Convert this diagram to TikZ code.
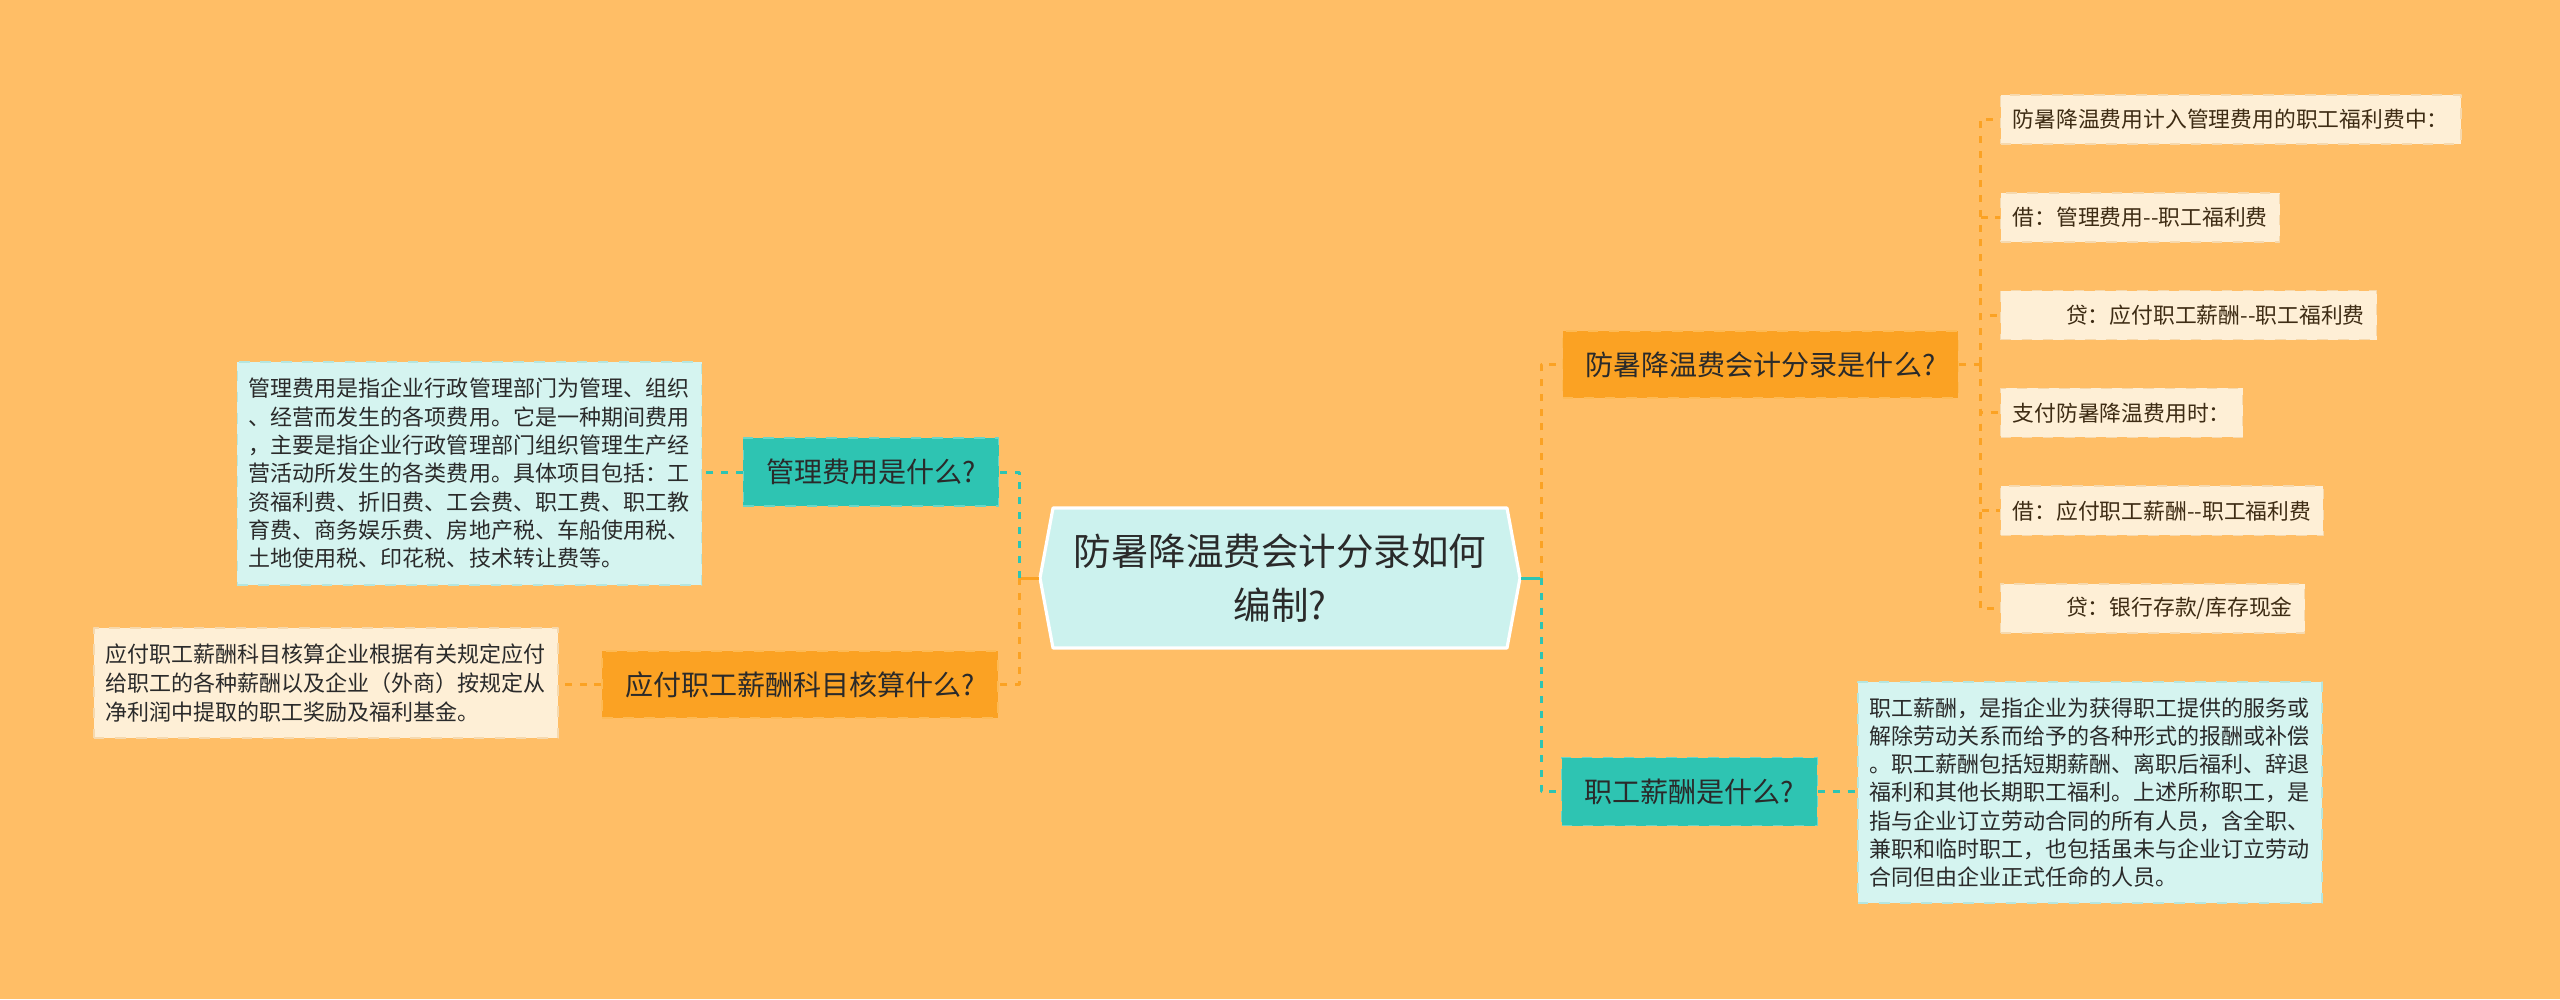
\documentclass[tikz,border=0pt]{standalone}
\usepackage{fontspec}
\setmainfont{Noto Sans CJK SC}
\usetikzlibrary{calc}
\definecolor{bgorange}{HTML}{FFBE66}
\definecolor{tealbox}{HTML}{2EC4B2}
\definecolor{tealedge}{HTML}{6AD6C8}
\definecolor{orangebox}{HTML}{FBA223}
\definecolor{orangeedge}{HTML}{FDBA55}
\definecolor{cyandesc}{HTML}{D5F4F0}
\definecolor{cyanedge}{HTML}{B5E6DF}
\definecolor{creambox}{HTML}{FEEFD6}
\definecolor{creamedge}{HTML}{F6D9AE}
\definecolor{rootfill}{HTML}{CCF2EE}
\definecolor{darktext}{HTML}{2A2A2A}
\definecolor{leaftext}{HTML}{3E2C14}
\begin{document}
\begin{tikzpicture}[x=0.01cm,y=-0.01cm,line join=round,
  box/.style={inner xsep=0.23cm,inner ysep=0pt,dashed,line width=0.4pt,text=darktext},
  tealq/.style={box,fill=tealbox,draw=tealedge,minimum height=0.68cm,font=\fontsize{7.97pt}{9pt}\selectfont},
  orangeq/.style={box,fill=orangebox,draw=orangeedge,minimum height=0.67cm,font=\fontsize{7.97pt}{9pt}\selectfont},
  desc/.style={box,inner xsep=0.115cm,align=left,text width=4.41cm},
  cyanbox/.style={desc,fill=cyandesc,draw=cyanedge},
  creamdesc/.style={desc,fill=creambox,draw=creamedge},
  leaf/.style={box,anchor=west,inner xsep=0.12cm,fill=creambox,draw=creamedge,minimum height=0.49cm,text=leaftext,font=\fontsize{6.2pt}{7pt}\selectfont},
  tealline/.style={draw=tealbox,line width=0.85pt,dash pattern=on 2pt off 2.2pt},
  orangeline/.style={draw=orangebox,line width=0.85pt,dash pattern=on 2pt off 2.2pt}]
\fill[bgorange] (0,0) rectangle (2560,999);
\useasboundingbox (0,0) rectangle (2560,999);
% central topic
\coordinate (rc) at (1280,578);
\draw[white,line width=0.9pt,fill=rootfill] ($(rc)+(-240,0)$) -- ($(rc)+(-227,-70)$) -- ($(rc)+(227,-70)$)
  -- ($(rc)+(240,0)$) -- ($(rc)+(227,70)$) -- ($(rc)+(-227,70)$) -- cycle;
\node (root) at (rc) [minimum width=4.8cm,minimum height=1.41cm,align=center,text=darktext,
  font=\fontsize{10.67pt}{15.4pt}\selectfont] {防暑降温费会计分录如何\\编制?};
% left branches
\node[tealq] (mgmt) at (871,472) {管理费用是什么?};
\node[cyanbox,minimum height=2.23cm,font=\fontsize{6.26pt}{8.05pt}\selectfont] (mgmtd) at (469.5,473.5) {管理费用是指企业行政管理部门为管理、组织\\、经营而发生的各项费用。它是一种期间费用\\，主要是指企业行政管理部门组织管理生产经\\营活动所发生的各类费用。具体项目包括：工\\资福利费、折旧费、工会费、职工费、职工教\\育费、商务娱乐费、房地产税、车船使用税、\\土地使用税、印花税、技术转让费等。};
\node[orangeq] (payq) at (800,684.5) {应付职工薪酬科目核算什么?};
\node[creamdesc,minimum height=1.1cm,font=\fontsize{6.26pt}{8.2pt}\selectfont] (payd) at (326,683) {应付职工薪酬科目核算企业根据有关规定应付\\给职工的各种薪酬以及企业（外商）按规定从\\净利润中提取的职工奖励及福利基金。};
% right branches
\node[orangeq] (coolq) at (1760.5,364.5) {防暑降温费会计分录是什么?};
\node[tealq] (salq) at (1689.5,791.5) {职工薪酬是什么?};
\node[cyanbox,minimum height=2.21cm,font=\fontsize{6.26pt}{8.05pt}\selectfont] (sald) at (2090,792.5) {职工薪酬，是指企业为获得职工提供的服务或\\解除劳动关系而给予的各种形式的报酬或补偿\\。职工薪酬包括短期薪酬、离职后福利、辞退\\福利和其他长期职工福利。上述所称职工，是\\指与企业订立劳动合同的所有人员，含全职、\\兼职和临时职工，也包括虽未与企业订立劳动\\合同但由企业正式任命的人员。};
\foreach \t [count=\i] in {{防暑降温费用计入管理费用的职工福利费中：},{借：管理费用-{}-职工福利费},
  {\hspace*{2.45em}贷：应付职工薪酬-{}-职工福利费},{支付防暑降温费用时：},
  {借：应付职工薪酬-{}-职工福利费},{\hspace*{2.45em}贷：银行存款/库存现金}}
  \node[leaf] (l\i) at (2000,{119.5+97.8*(\i-1)}) {\t};
% connectors
\coordinate (lj) at (1019,578);
\coordinate (rj) at (1541,578);
\coordinate (cj) at (1980,364.5);
\draw[orangebox,line width=0.85pt] (root.west) -- (lj);
\draw[tealline] (lj) |- (mgmt.east);
\draw[orangeline] (lj) |- (payq.east);
\draw[tealline] (mgmt.west) -- (mgmtd.east |- mgmt.west);
\draw[orangeline] (payq.west) -- (payd.east |- payq.west);
\draw[tealbox,line width=0.85pt] (root.east) -- (rj);
\draw[orangeline] (rj) |- (coolq.west);
\draw[tealline] (rj) |- (salq.west);
\draw[tealline] (salq.east) -- (sald.west |- salq.east);
\draw[orangeline] (coolq.east) -- (cj);
\foreach \i in {1,...,6} \draw[orangeline] (cj) |- (l\i.west);
\end{tikzpicture}
\end{document}
